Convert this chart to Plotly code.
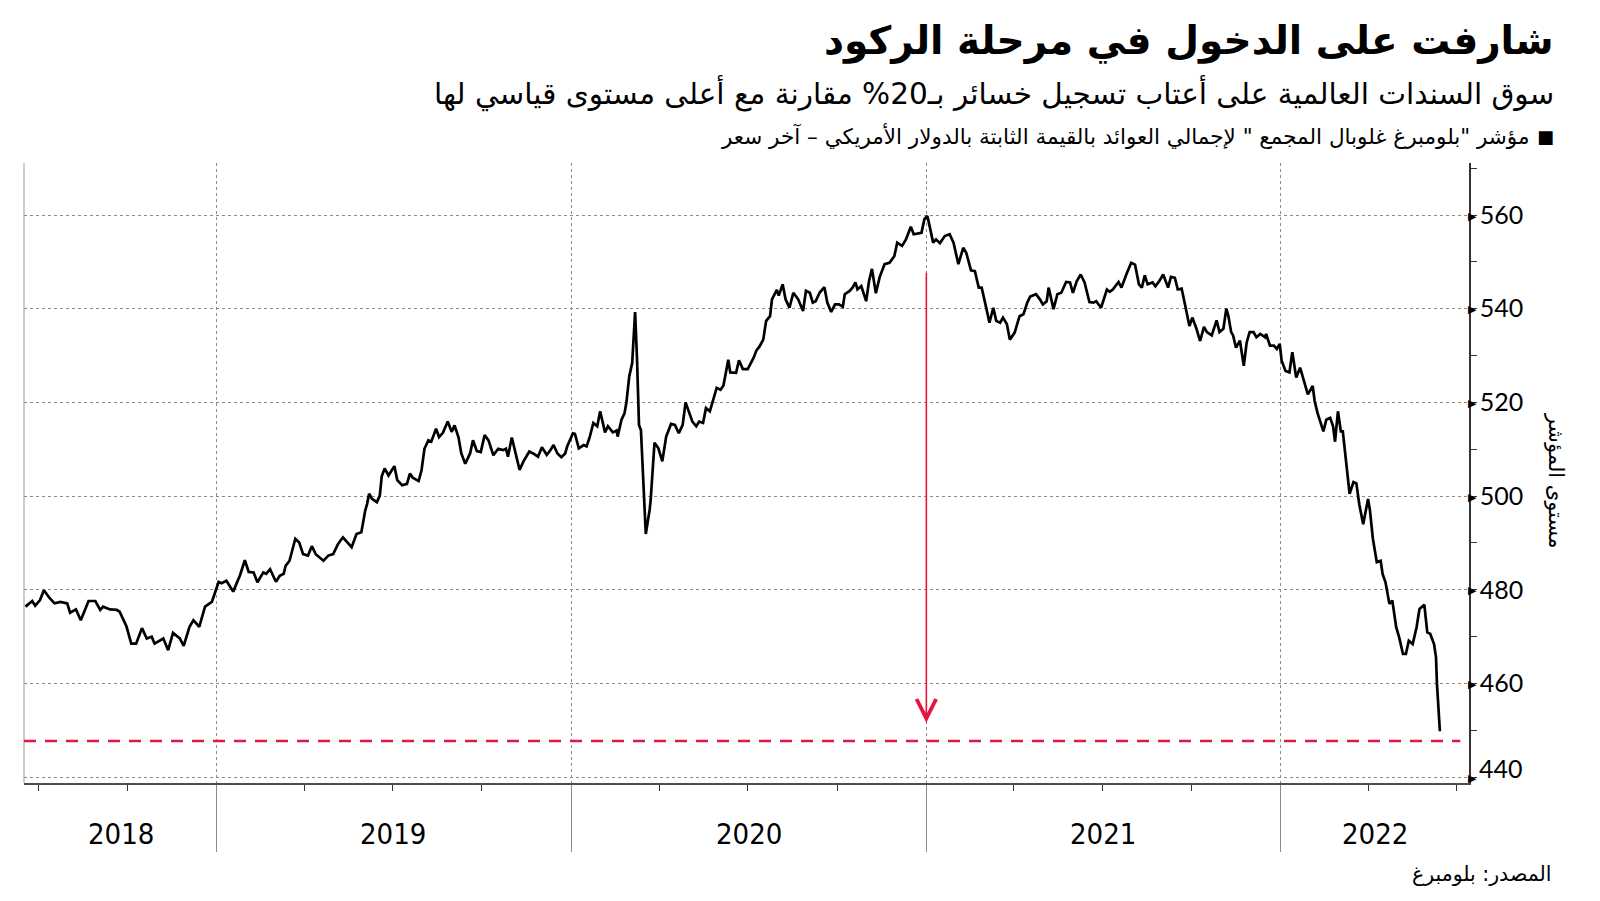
import pandas as pd
import plotly.graph_objects as go

# ---------------- data ----------------
dates = [
"2018-06-18","2018-06-25","2018-06-28","2018-07-03","2018-07-07","2018-07-13","2018-07-18","2018-07-24",
"2018-07-31","2018-08-03","2018-08-09","2018-08-14","2018-08-22","2018-08-29","2018-09-03","2018-09-06",
"2018-09-13","2018-09-20","2018-09-23","2018-09-30","2018-10-05","2018-10-10","2018-10-16","2018-10-21",
"2018-10-26","2018-10-29","2018-11-07","2018-11-12","2018-11-17","2018-11-24","2018-11-28","2018-12-04",
"2018-12-08","2018-12-14","2018-12-20","2018-12-27","2018-12-30",
"2019-01-03","2019-01-06","2019-01-11","2019-01-18","2019-01-25","2019-01-30","2019-02-03","2019-02-08",
"2019-02-12","2019-02-18","2019-02-21","2019-02-25","2019-03-03","2019-03-07","2019-03-11","2019-03-13",
"2019-03-17","2019-03-23","2019-03-27","2019-03-31","2019-04-05","2019-04-09","2019-04-13","2019-04-21",
"2019-04-26","2019-05-01","2019-05-06","2019-05-11","2019-05-16","2019-05-20","2019-05-25","2019-05-30",
"2019-06-03","2019-06-05","2019-06-07","2019-06-10","2019-06-15","2019-06-18","2019-06-20","2019-06-23",
"2019-06-27","2019-07-03","2019-07-06","2019-07-11","2019-07-16","2019-07-19","2019-07-22","2019-07-28",
"2019-07-31","2019-08-03","2019-08-07","2019-08-10","2019-08-15","2019-08-18","2019-08-22","2019-08-27",
"2019-08-31","2019-09-03","2019-09-07","2019-09-10","2019-09-14","2019-09-19","2019-09-22","2019-09-26",
"2019-09-30","2019-10-04","2019-10-08","2019-10-13","2019-10-18","2019-10-23","2019-10-26","2019-10-28",
"2019-11-01","2019-11-04","2019-11-06","2019-11-09","2019-11-13","2019-11-19","2019-11-23","2019-11-28",
"2019-12-02","2019-12-07","2019-12-11","2019-12-14","2019-12-18","2019-12-22","2019-12-26","2019-12-28",
"2020-01-03","2020-01-05","2020-01-09","2020-01-14","2020-01-17","2020-01-20","2020-01-24","2020-01-28",
"2020-01-31","2020-02-05","2020-02-08","2020-02-13","2020-02-17","2020-02-18","2020-02-22","2020-02-25",
"2020-02-27","2020-03-01","2020-03-04","2020-03-07","2020-03-09","2020-03-11","2020-03-13","2020-03-18",
"2020-03-22","2020-03-23","2020-03-27","2020-03-31","2020-04-04","2020-04-08","2020-04-13","2020-04-17",
"2020-04-21","2020-04-25","2020-04-28","2020-05-01","2020-05-05","2020-05-09","2020-05-12","2020-05-16",
"2020-05-19","2020-05-23","2020-05-25","2020-05-30","2020-06-03","2020-06-06","2020-06-11","2020-06-13",
"2020-06-19","2020-06-22","2020-06-26","2020-07-01","2020-07-07","2020-07-10","2020-07-13","2020-07-17",
"2020-07-20","2020-07-24","2020-07-26","2020-07-31","2020-08-02","2020-08-06","2020-08-09","2020-08-13",
"2020-08-17","2020-08-22","2020-08-27","2020-08-30","2020-09-03","2020-09-06","2020-09-09","2020-09-13",
"2020-09-18","2020-09-21","2020-09-25","2020-09-29","2020-10-03","2020-10-07","2020-10-09","2020-10-14",
"2020-10-17","2020-10-20","2020-10-22","2020-10-26","2020-10-31","2020-11-03","2020-11-06","2020-11-10",
"2020-11-14","2020-11-19","2020-11-24","2020-11-29","2020-12-02","2020-12-07","2020-12-11","2020-12-16",
"2020-12-19","2020-12-24","2020-12-27","2020-12-30",
"2021-01-02","2021-01-04","2021-01-08","2021-01-11","2021-01-15","2021-01-20","2021-01-25","2021-01-29",
"2021-02-03","2021-02-08","2021-02-11","2021-02-16","2021-02-20","2021-02-24","2021-02-27","2021-03-04",
"2021-03-07","2021-03-11","2021-03-14","2021-03-18","2021-03-21","2021-03-25","2021-03-28","2021-04-02",
"2021-04-07","2021-04-11","2021-04-15","2021-04-18","2021-04-24","2021-04-28","2021-05-01","2021-05-05",
"2021-05-07","2021-05-12","2021-05-16","2021-05-20","2021-05-25","2021-05-29","2021-06-01","2021-06-05",
"2021-06-09","2021-06-13","2021-06-18","2021-06-22","2021-06-25","2021-06-30","2021-07-06","2021-07-09",
"2021-07-12","2021-07-18","2021-07-21","2021-07-26","2021-07-31","2021-08-04","2021-08-08","2021-08-11",
"2021-08-14","2021-08-17","2021-08-22","2021-08-25","2021-08-29","2021-09-02","2021-09-07","2021-09-10",
"2021-09-14","2021-09-17","2021-09-21","2021-09-24","2021-09-29","2021-10-02","2021-10-06","2021-10-10",
"2021-10-14","2021-10-17","2021-10-22","2021-10-27","2021-10-30","2021-11-03","2021-11-06","2021-11-08",
"2021-11-11","2021-11-13","2021-11-16","2021-11-20","2021-11-24","2021-11-27","2021-11-30","2021-12-04",
"2021-12-07","2021-12-11","2021-12-16","2021-12-17","2021-12-21","2021-12-25","2021-12-28","2021-12-31",
"2022-01-02","2022-01-06","2022-01-10","2022-01-13","2022-01-17","2022-01-21","2022-01-26","2022-01-29",
"2022-02-03","2022-02-05","2022-02-08","2022-02-14","2022-02-17","2022-02-21","2022-02-24","2022-02-26",
"2022-03-01","2022-03-04","2022-03-06","2022-03-09","2022-03-13","2022-03-17","2022-03-20","2022-03-23",
"2022-03-27","2022-04-01","2022-04-03","2022-04-06","2022-04-10","2022-04-14","2022-04-16","2022-04-19",
"2022-04-21","2022-04-23","2022-04-26","2022-04-30","2022-05-03","2022-05-07","2022-05-10","2022-05-13",
"2022-05-17","2022-05-21","2022-05-24","2022-05-29","2022-06-01","2022-06-04","2022-06-08","2022-06-10",
"2022-06-11","2022-06-14",
]

values = [
476.4,477.6,476.6,477.8,479.9,478.2,477.1,477.4,
477.1,475.1,475.8,473.5,477.6,477.6,475.7,476.4,
475.8,475.7,475.3,472.2,468.5,468.5,471.8,469.6,
470.0,468.5,469.6,467.1,470.8,469.6,468.0,472.1,
473.5,472.1,476.4,477.4,479.2,
481.7,481.4,481.9,479.6,483.1,486.3,483.8,483.7,
481.6,483.7,483.4,484.4,481.7,483.0,483.4,485.1,
486.2,490.9,490.1,487.6,487.3,489.3,487.6,486.2,
487.3,487.6,489.8,491.2,490.1,489.1,491.9,492.3,
496.9,498.4,500.5,499.4,498.7,500.1,504.2,505.9,
504.4,506.4,503.4,502.3,502.6,504.8,503.9,503.2,
505.5,510.1,511.9,511.6,514.4,512.6,513.5,515.9,
513.7,515.1,512.6,509.1,506.9,509.1,511.9,509.6,
509.4,513.0,511.9,508.7,510.1,509.8,510.1,508.4,
512.5,510.1,508.4,505.6,507.4,509.5,509.1,508.4,
510.4,508.8,509.9,510.9,509.1,508.3,509.1,510.6,
513.4,513.3,510.2,510.9,510.6,512.4,515.6,514.9,
518.1,513.6,514.9,513.6,514.0,512.7,516.3,517.6,
519.9,525.6,528.4,539.3,529.1,515.2,514.1,491.9,
497.1,499.1,511.4,510.2,507.4,512.7,515.4,515.2,
513.4,515.2,520.0,518.4,515.9,514.9,515.9,515.6,
518.8,518.1,519.5,523.1,522.7,523.6,529.1,526.4,
526.3,529.0,527.1,527.1,529.5,531.1,531.9,533.4,
537.4,538.4,542.0,544.0,542.8,545.2,542.0,540.2,
543.4,542.0,539.5,543.8,543.4,541.3,541.6,543.4,
544.6,541.3,539.3,540.9,540.9,540.4,543.1,543.8,
544.5,545.6,544.1,544.8,541.6,545.9,548.5,543.3,
546.8,549.5,549.8,551.2,554.1,553.4,554.8,557.5,
555.9,556.1,556.2,559.1,
559.8,558.0,554.1,554.8,554.0,555.5,555.9,554.1,
549.5,553.0,552.0,548.2,548.0,544.5,544.5,539.9,
537.0,540.2,537.4,537.0,538.1,536.7,533.4,534.9,
538.4,538.8,541.3,542.6,543.1,542.0,540.9,541.6,
544.5,539.9,543.1,543.4,545.7,545.6,543.4,545.9,
547.3,545.6,541.4,541.3,541.6,540.2,544.1,543.6,
544.1,545.7,544.5,547.3,549.8,549.4,545.2,544.5,
547.1,545.2,545.6,544.8,545.9,547.3,544.5,546.8,
546.6,544.1,544.3,541.3,536.3,538.1,535.9,533.1,
536.1,535.0,534.3,537.5,535.0,535.7,540.0,538.6,
535.0,534.3,531.7,533.2,527.8,532.8,535.0,535.0,
533.9,534.6,533.9,534.6,532.1,532.1,531.4,532.5,
528.9,526.7,526.4,530.7,525.3,527.4,523.5,521.7,
523.5,520.3,517.7,513.8,516.3,516.7,514.9,511.6,
518.1,513.8,513.8,508.1,500.5,503.0,502.7,498.2,
494.0,499.4,496.9,490.9,485.9,486.2,483.4,481.6,
479.1,477.0,477.7,472.0,469.9,466.3,466.3,469.1,
468.4,472.0,475.9,476.8,470.9,470.6,468.4,465.6,
459.9,449.8,
]

y_ticks = [440, 460, 480, 500, 520, 540, 560]
y_tick_text = ["", "460", "480", "500", "520", "540", "560"]   # 440 drawn separately (nudged up)
bottom_tick = 440
year_labels = ["2018", "2019", "2020", "2021", "2022"]
year_label_dates = ["2018-09-24", "2019-07-02", "2020-07-02", "2021-07-02", "2022-04-08"]
year_starts = ["2019-01-01", "2020-01-01", "2021-01-01", "2022-01-01"]
peak_date = "2021-01-01"
arrow_from = 548.0
arrow_to = 451.6
threshold = 447.7   # 20% below the record

title_text = "شارفت على الدخول في مرحلة الركود"
subtitle_text = "سوق السندات العالمية على أعتاب تسجيل خسائر بـ20% مقارنة مع أعلى مستوى قياسي لها"
legend_text = "مؤشر \"بلومبرغ غلوبال المجمع \" لإجمالي العوائد بالقيمة الثابتة بالدولار الأمريكي – آخر سعر"
source_text = "المصدر: بلومبرغ"
ytitle_text = "مستوى المؤشر"

# ---------------- styling ----------------
RED = "#e3173e"
GRID = "#8a8a8a"
AR_FONT = "DejaVu Sans, Noto Sans, sans-serif"
NUM_FONT = "Lato, Noto Sans, sans-serif"
YEAR_FONT = "Liberation Sans Narrow, DejaVu Sans Condensed, Roboto, sans-serif"

fig = go.Figure()
fig.add_trace(go.Scatter(x=pd.to_datetime(dates), y=values, mode="lines",
                         line=dict(color="black", width=2.7), hoverinfo="skip",
                         showlegend=False))

quarters = pd.date_range("2018-07-01", "2022-07-01", freq="QS").strftime("%Y-%m-%d").tolist()

fig.update_layout(
    width=1600, height=901,
    paper_bgcolor="white", plot_bgcolor="white",
    margin=dict(l=15.5, r=139, t=155.3, b=126.4, autoexpand=False),
    showlegend=False,
    xaxis=dict(
        type="date", range=["2018-06-16 12:00", "2022-07-14"],
        tickmode="array", tickvals=year_starts, showticklabels=False,
        ticks="outside", ticklen=67, tickwidth=1, tickcolor=GRID,
        showgrid=True, gridcolor=GRID, griddash="dot", gridwidth=1,
        showline=True, linecolor="#4d4d4d", linewidth=2, zeroline=False,
        minor=dict(tickmode="array", tickvals=quarters, ticks="outside",
                   ticklen=6, tickwidth=1, tickcolor="#333", showgrid=False),
    ),
    yaxis=dict(
        side="right", range=[438.75, 571.1],
        tickmode="array", tickvals=y_ticks, ticktext=y_tick_text, ticks="",
        tickfont=dict(family=NUM_FONT, size=25, color="black"),
        ticklabelstandoff=4,
        showgrid=True, gridcolor=GRID, griddash="dot", gridwidth=1,
        showline=True, linecolor="#333", linewidth=1.5, zeroline=False,
        minor=dict(dtick=10, tick0=440, ticks="outside", ticklen=6,
                   tickwidth=1, tickcolor="#333", showgrid=False),
    ),
)

# left border
fig.add_shape(type="line", xref="paper", yref="paper", x0=0, x1=0, y0=0, y1=1,
              line=dict(color="#9a9a9a", width=1))
# 20% threshold dashed line
fig.add_shape(type="line", xref="paper", yref="y", x0=0, x1=0.994,
              y0=threshold, y1=threshold,
              line=dict(color=RED, width=2.5, dash="12px,9px"))

# arrow from peak down
fig.add_annotation(x=peak_date, y=arrow_to, ax=peak_date, ay=arrow_from,
                   xref="x", yref="y", axref="x", ayref="y", text="",
                   showarrow=True, arrowhead=5, arrowsize=2.4, arrowwidth=1.6,
                   arrowcolor=RED, standoff=0, startstandoff=0)

# triangle markers on y axis
for v in y_ticks:
    fig.add_annotation(x=1, y=v, xref="paper", yref="y", text="▶",
                       showarrow=False, xanchor="left", yanchor="middle",
                       xshift=-2, borderpad=0, font=dict(size=11, color="black"))

# bottom tick label nudged upward as in the original
fig.add_annotation(x=1, y=bottom_tick, xref="paper", yref="y", text=str(bottom_tick),
                   showarrow=False, xanchor="left", yanchor="middle",
                   xshift=8, yshift=9, font=dict(family=NUM_FONT, size=25, color="black"))

# year labels
for lab, d in zip(year_labels, year_label_dates):
    fig.add_annotation(x=d, y=-0.083, xref="x", yref="paper", text=lab,
                       showarrow=False, xanchor="center", yanchor="middle",
                       font=dict(family=YEAR_FONT, size=29, color="black"))

# titles
fig.add_annotation(x=1.0602, y=1.196, xref="paper", yref="paper", text="<b>" + title_text + "</b>",
                   showarrow=False, xanchor="right", yanchor="middle",
                   font=dict(family=AR_FONT, size=39, color="black"))
fig.add_annotation(x=1.0602, y=1.113, xref="paper", yref="paper", text=subtitle_text,
                   showarrow=False, xanchor="right", yanchor="middle",
                   font=dict(family=AR_FONT, size=29.5, color="black"))
fig.add_annotation(x=1.0602, y=1.043, xref="paper", yref="paper", text="■",
                   showarrow=False, xanchor="right", yanchor="middle",
                   font=dict(family=AR_FONT, size=18, color="black"))
fig.add_annotation(x=1.0435, y=1.043, xref="paper", yref="paper", text=legend_text,
                   showarrow=False, xanchor="right", yanchor="middle",
                   font=dict(family=AR_FONT, size=21.5, color="black"))
fig.add_annotation(x=1.058, y=-0.147, xref="paper", yref="paper", text=source_text,
                   showarrow=False, xanchor="right", yanchor="middle",
                   font=dict(family=AR_FONT, size=20.5, color="black"))
fig.add_annotation(x=1.06, y=0.488, xref="paper", yref="paper", text=ytitle_text,
                   showarrow=False, textangle=90, xanchor="center", yanchor="middle",
                   font=dict(family=AR_FONT, size=21, color="black"))

fig.write_html("out.html")
